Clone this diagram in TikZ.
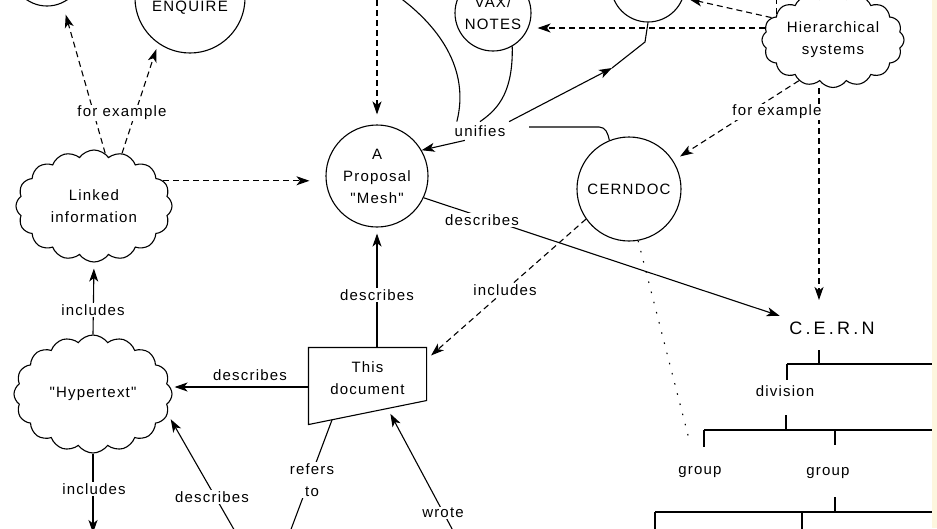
\documentclass[tikz,border=0pt]{standalone}
\usepackage{fontspec}
\setmainfont{Liberation Sans}[LetterSpace=8, Ligatures=TeXOff]
\newfontfamily\cernfont{Liberation Sans}[LetterSpace=18]
\usetikzlibrary{arrows.meta}
\usetikzlibrary{shapes.symbols}
\usetikzlibrary{calc}
\definecolor{paper}{RGB}{253,246,222}

\begin{document}
\begin{tikzpicture}[x=1pt, y=-1pt, line width=1.1pt,
		every node/.style={font=\fontsize{15}{22}\selectfont, align=center},
		lbl/.style={fill=white, inner sep=1.5pt},
		arr/.style={-{Stealth[length=13pt,width=9pt,inset=3.5pt]}, shorten >=6pt},
		dsh/.style={dash pattern=on 6pt off 4pt},
		dots/.style={dash pattern=on 1.5pt off 9pt},
		ball/.style={circle, draw, inner sep=0pt},
		puff/.style={cloud, draw, cloud puffs=16, cloud puff arc=110, cloud ignores aspect, inner sep=0pt}]
			\useasboundingbox (0,0) rectangle (937,528);
			\clip (0,0) rectangle (937,528);
			\node [ball, minimum size=72pt] (hcircle) at (47,-30) {};
			\node [ball, minimum size=110pt, text height=30pt] (enquire) at (190,-2) {ENQUIRE};
			\node [puff, minimum width=156pt, minimum height=112pt] (linked) at (94,206) {Linked\\information};
			\node [ball, minimum size=102pt] (mesh) at (377,176) {A\\Proposal\\"Mesh"};
			\node [ball, minimum size=76pt] (vax) at (493,13) {VAX/\\NOTES};
			\node [ball, minimum size=74pt] (forum) at (648,-15) {};
			\node [puff, minimum width=142pt, minimum height=95pt] (hier) at (833,40) {Hierarchical\\systems};
			\node [ball, minimum size=104pt] (cerndoc) at (629,189) {CERNDOC};
			\node [font=\cernfont\fontsize{18}{20}\selectfont] (cern) at (832,328) {C.E.R.N};
			\node (division) at (785,391) {division};
			\node (group1) at (700,472) {group};
			\node (group2) at (828,473) {group};
			\node [minimum width=117pt, minimum height=60pt, inner sep=0pt] (doc) at (367.5,378) {This\\document};
			\coordinate (dse) at ([yshift=8pt]doc.south east);
			\coordinate (dsw) at ([yshift=-16pt]doc.south west);
			\draw [-] (doc.north west) -- (doc.north east) -- (dse) -- (dsw) -- cycle;
			\node [puff, minimum width=158pt, minimum height=118pt] (hyper) at (93,394) {"Hypertext"};
			\node (unifies) at (480,131) {unifies};
			\coordinate (topin) at (377,-10);
			\coordinate (cacm) at (392,-8);
			\coordinate (fmid) at (612,68);
			\coordinate (cerntop) at (819,300);
			\coordinate (grouptop) at (690,443);
			\coordinate (refoff) at (287,540);
			\coordinate (wroteoff) at (458,540);
			\coordinate (hypoff) at (93,539);
			\coordinate (descoff) at (240,540);
			\draw [dsh, arr, shorten >=12pt] (linked.78) -- (hcircle.-65);
			\draw [dsh, arr] (linked.62) -- (enquire.-125);
			\draw [dsh, arr, shorten >=16pt] (linked.20) -- (linked.20 -| mesh.west);
			\draw [dsh, arr, shorten >=10pt] (topin) -- (mesh.north);
			\draw [-] (cacm) .. controls (440,25) and (470,70) .. ([xshift=6pt]unifies.north west);
			\draw [-] (vax.-60) .. controls (513,90) and (500,108) .. (unifies.north);
			\draw [arr, shorten >=0pt] ([xshift=14pt]unifies.south west) -- (mesh.30);
			\draw [arr, shorten >=0pt] (unifies.north east) -- (fmid);
			\draw [-] (fmid) -- (645,42) -- (forum.south);
			\draw [-] ([xshift=20pt,yshift=4pt]unifies.east) -- ++(70,0) to[out=0,in=100] (cerndoc.112);
			\draw [dsh, arr] (hier.170) -- (hier.170 -| vax.east);
			\draw [dsh, arr] (hier.160) -- (forum.-20);
			\draw [dsh] (hier.155) -- ++(0,-25);
			\draw [dsh, arr, shorten >=8pt] (hier.-130) -- (cerndoc);
			\draw [dsh, arr, shorten >=0pt] (hier.south -| cerntop) -- (cerntop);
			\draw [arr] (mesh.-25) -- (cern.north west);
			\draw [dsh, arr] (cerndoc.-145) -- ([yshift=-12pt]doc.north east);
			\draw [dots] (cerndoc.-80) -- (grouptop);
			\draw [-] (819,350) -- (819,364) (787,364) -- (933,364) (787,364) -- (787,380);
			\draw [-] (786,415) -- (786,430) (704,430) -- (933,430) (704,430) -- (704,447) (835,430) -- (835,445);
			\draw [-] (835,497) -- (835,512) (655,512) -- (933,512) (655,512) -- (655,530) (802,512) -- (802,530);
			\draw [arr] (doc.north -| mesh.south) -- (mesh.south);
			\draw [arr, shorten >=2pt] ([yshift=-9pt]doc.west) -- ([yshift=-9pt]doc.west -| hyper.east);
			\draw [-] ($(dsw)!0.2!(dse)$) -- (refoff);
			\draw [arr] (wroteoff) -- ($(dsw)!0.67!(dse)$);
			\draw [arr] (hyper.north) -- (linked.south);
			\draw [arr] (hyper.south) -- (hypoff);
			\draw [arr] (descoff) -- (hyper.-15);
			\node [lbl] (fe1) at (122,113) {for example};
			\node [lbl] (fe2) at (777,112) {for example};
			\node [lbl] (desc1) at (482,220) {describes};
			\node [lbl] (incl1) at (505,290) {includes};
			\node [lbl] (desc2) at (377,295) {describes};
			\node (desc3) at (250,375) {describes};
			\node [lbl] (refers) at (312,480) {refers\\to};
			\node [lbl] (wrote) at (443,513) {wrote};
			\node [lbl] (incl2) at (93,310) {includes};
			\node [lbl] (incl3) at (94,489) {includes};
			\node [lbl] (desc4) at (212,497) {describes};
			\fill [paper] (932,0) rectangle (937,528);
	\end{tikzpicture}
\end{document}
